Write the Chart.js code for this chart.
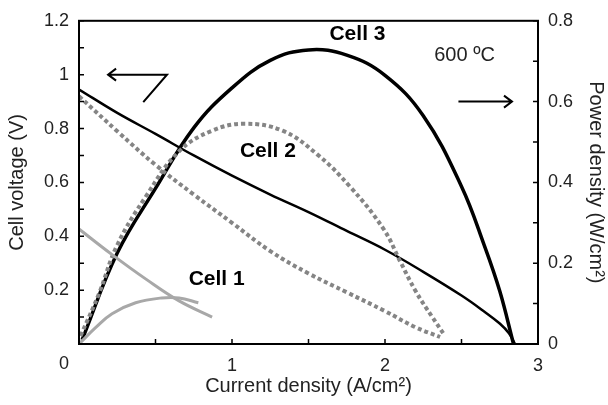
<!DOCTYPE html>
<html>
<head>
<meta charset="utf-8">
<script src="https://cdn.jsdelivr.net/npm/chart.js@4.4.0/dist/chart.umd.min.js"></script>
<style>
html, body { margin: 0; padding: 0; background: #fff; }
</style>
</head>
<body>
<canvas id="myChart" width="608" height="405"></canvas>
<script>
// values (current density in A/cm2)
var cell3VoltCurrent = [0, 0.25, 0.5, 0.75, 1.0, 1.25, 1.5, 1.75, 2.0, 2.25, 2.5, 2.65, 2.75, 2.81, 2.85];
var cell3Voltage     = [0.945, 0.858, 0.78, 0.70, 0.625, 0.555, 0.49, 0.42, 0.35, 0.268, 0.18, 0.12, 0.076, 0.04, 0.0];
var cell3PowCurrent  = [0.02, 0.25, 0.5, 0.75, 1.0, 1.25, 1.5, 1.75, 2.0, 2.25, 2.5, 2.65, 2.75, 2.84];
var cell3Power       = [0.01, 0.225, 0.385, 0.535, 0.634, 0.702, 0.728, 0.715, 0.665, 0.565, 0.39, 0.243, 0.131, 0.0];

var cell2VoltCurrent = [0, 0.25, 0.5, 0.75, 1.0, 1.25, 1.5, 1.75, 2.0, 2.2, 2.36];
var cell2Voltage     = [0.92, 0.79, 0.665, 0.555, 0.45, 0.345, 0.262, 0.192, 0.122, 0.062, 0.026];
var cell2PowCurrent  = [0.01, 0.13, 0.25, 0.44, 0.654, 0.87, 1.08, 1.33, 1.555, 1.77, 1.99, 2.1, 2.2, 2.31, 2.38];
var cell2Power       = [0.02, 0.124, 0.245, 0.367, 0.477, 0.528, 0.545, 0.528, 0.47, 0.39, 0.285, 0.204, 0.131, 0.066, 0.027];

var cell1VoltCurrent = [0, 0.216, 0.44, 0.654, 0.87];
var cell1Voltage     = [0.427, 0.332, 0.24, 0.16, 0.1];
var cell1PowCurrent  = [0, 0.11, 0.216, 0.37, 0.54, 0.654, 0.78];
var cell1Power       = [0, 0.041, 0.075, 0.102, 0.114, 0.114, 0.102];

var xTickLabels = ['1', '2', '3'];
var leftTickLabels = ['0.2', '0.4', '0.6', '0.8', '1', '1.2'];
var rightTickLabels = ['0', '0.2', '0.4', '0.6', '0.8'];

// text labels placed in data units (x, left axis)
var cellLabels = [
  { text: 'Cell 3', x: 1.82, y: 1.15 },
  { text: 'Cell 2', x: 1.235, y: 0.715 },
  { text: 'Cell 1', x: 0.9, y: 0.24 }
];
var tempLabel = { text: '600 ºC', x: 2.52, y: 1.073 };

var FONT = '"Liberation Sans", Arial, sans-serif';

function pts(xs, ys) {
  return xs.map(function(x, i) { return { x: x, y: ys[i] }; });
}

var framePlugin = {
  id: 'frame',
  afterDraw: function(chart) {
    var ctx = chart.ctx, a = chart.chartArea;
    var sx = chart.scales.x, sl = chart.scales.yV, sr = chart.scales.yP;
    ctx.save();
    ctx.strokeStyle = '#000';
    ctx.lineWidth = 2;
    ctx.strokeRect(a.left, a.top, a.right - a.left, a.bottom - a.top);
    ctx.lineWidth = 1.5;
    ctx.beginPath();
    sx.ticks.forEach(function(t) {
      var p = sx.getPixelForValue(t.value);
      ctx.moveTo(p, a.bottom); ctx.lineTo(p, a.bottom - 5);
    });
    sl.ticks.forEach(function(t) {
      var p = sl.getPixelForValue(t.value);
      ctx.moveTo(a.left, p); ctx.lineTo(a.left + 5, p);
    });
    sr.ticks.forEach(function(t) {
      var p = sr.getPixelForValue(t.value);
      ctx.moveTo(a.right, p); ctx.lineTo(a.right - 5, p);
    });
    ctx.stroke();

    // origin label
    ctx.fillStyle = '#222';
    ctx.font = '18px ' + FONT;
    ctx.textAlign = 'center';
    ctx.textBaseline = 'middle';
    ctx.fillText('0', sx.getPixelForValue(0) - 15, a.bottom + 20);

    // cell labels
    ctx.fillStyle = '#000';
    ctx.font = 'bold 21px ' + FONT;
    cellLabels.forEach(function(l) {
      ctx.fillText(l.text, sx.getPixelForValue(l.x), sl.getPixelForValue(l.y));
    });
    ctx.fillStyle = '#222';
    ctx.font = '20px ' + FONT;
    ctx.fillText(tempLabel.text, sx.getPixelForValue(tempLabel.x), sl.getPixelForValue(tempLabel.y));

    // arrows
    ctx.strokeStyle = '#000';
    ctx.lineWidth = 2;
    var x0 = sx.getPixelForValue(0.575), y0 = sl.getPixelForValue(1.0);
    var x1 = sx.getPixelForValue(0.19);
    ctx.beginPath();
    ctx.moveTo(sx.getPixelForValue(0.42), sl.getPixelForValue(0.898));
    ctx.lineTo(x0, y0);
    ctx.lineTo(x1, y0);
    ctx.moveTo(x1 + 8, y0 - 6); ctx.lineTo(x1, y0); ctx.lineTo(x1 + 8, y0 + 6);
    var yr = sr.getPixelForValue(0.6);
    var xr0 = sx.getPixelForValue(2.48), xr1 = sx.getPixelForValue(2.83);
    ctx.moveTo(xr0, yr); ctx.lineTo(xr1, yr);
    ctx.moveTo(xr1 - 8, yr - 6); ctx.lineTo(xr1, yr); ctx.lineTo(xr1 - 8, yr + 6);
    ctx.stroke();
    ctx.restore();
  }
};

var ctx = document.getElementById('myChart').getContext('2d');
var chart = new Chart(ctx, {
  type: 'scatter',
  data: {
    datasets: [
      { label: 'Cell 1 V', data: pts(cell1VoltCurrent, cell1Voltage), yAxisID: 'yV',
        borderColor: '#a8a8a8', borderWidth: 3 },
      { label: 'Cell 1 P', data: pts(cell1PowCurrent, cell1Power), yAxisID: 'yP',
        borderColor: '#a8a8a8', borderWidth: 3 },
      { label: 'Cell 2 V', data: pts(cell2VoltCurrent, cell2Voltage), yAxisID: 'yV',
        borderColor: '#858585', borderWidth: 4, borderDash: [4, 3] },
      { label: 'Cell 2 P', data: pts(cell2PowCurrent, cell2Power), yAxisID: 'yP',
        borderColor: '#858585', borderWidth: 4, borderDash: [4, 3] },
      { label: 'Cell 3 V', data: pts(cell3VoltCurrent, cell3Voltage), yAxisID: 'yV',
        borderColor: '#000', borderWidth: 2.5 },
      { label: 'Cell 3 P', data: pts(cell3PowCurrent, cell3Power), yAxisID: 'yP',
        borderColor: '#000', borderWidth: 3.5 }
    ]
  },
  options: {
    responsive: false,
    animation: false,
    showLine: true,
    layout: { padding: { top: 15, left: 0, right: 0, bottom: 0 } },
    elements: {
      point: { radius: 0, hoverRadius: 0 },
      line: { tension: 0.4, fill: false, borderCapStyle: 'butt' }
    },
    plugins: { legend: { display: false }, tooltip: { enabled: false } },
    scales: {
      x: {
        type: 'linear', min: 0, max: 3,
        grid: { display: false, drawTicks: false },
        border: { display: false },
        afterFit: function(s) { s.height = 61; },
        ticks: {
          stepSize: 0.5, autoSkip: false, maxRotation: 0, padding: 11,
          color: '#222', font: { family: FONT, size: 18 },
          callback: function(v) { return (v > 0 && v % 1 === 0) ? xTickLabels[v - 1] : ''; }
        },
        title: { display: true, text: 'Current density (A/cm²)', color: '#222',
          font: { family: FONT, size: 20 }, padding: { top: 0, bottom: 7 } }
      },
      yV: {
        type: 'linear', position: 'left', min: 0, max: 1.2,
        grid: { display: false, drawTicks: false },
        border: { display: false },
        afterFit: function(s) { s.width = 79; },
        ticks: {
          stepSize: 0.1, autoSkip: false, padding: 10,
          color: '#222', font: { family: FONT, size: 18 },
          callback: function(v) {
            var k = Math.round(v * 10);
            return (k > 0 && k % 2 === 0) ? leftTickLabels[k / 2 - 1] : '';
          }
        },
        title: { display: true, text: 'Cell voltage (V)', color: '#222',
          font: { family: FONT, size: 20 }, padding: { top: 5, bottom: 0 } }
      },
      yP: {
        type: 'linear', position: 'right', min: 0, max: 0.8,
        grid: { display: false, drawTicks: false },
        border: { display: false },
        afterFit: function(s) { s.width = 70; },
        ticks: {
          stepSize: 0.1, autoSkip: false, padding: 10,
          color: '#222', font: { family: FONT, size: 18 },
          callback: function(v) {
            var k = Math.round(v * 10);
            return (k % 2 === 0) ? rightTickLabels[k / 2] : '';
          }
        },
        title: { display: true, text: 'Power density (W/cm²)', color: '#222',
          font: { family: FONT, size: 20 }, padding: { top: 0, bottom: 0 } }
      }
    }
  },
  plugins: [framePlugin]
});
</script>
</body>
</html>
